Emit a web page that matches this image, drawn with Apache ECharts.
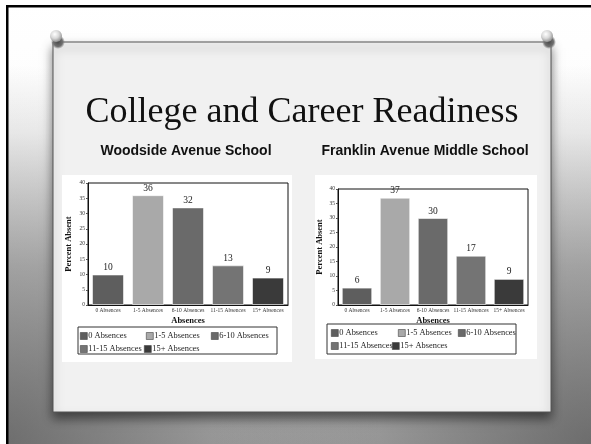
<!DOCTYPE html>
<html><head><meta charset="utf-8">
<script src="https://cdn.jsdelivr.net/npm/echarts@6/dist/echarts.min.js"></script>
<style>html,body{margin:0;padding:0;background:#fff}#c{width:591px;height:444px}</style>
</head><body><div id="c"></div>
<script>
const categories = ['0 Absences', '1-5 Absences', '6-10 Absences', '11-15 Absences', '15+ Absences'];
const woodsideValues = [10, 36, 32, 13, 9];
const franklinValues = [6, 37, 30, 17, 9];
const yMin = 0, yMax = 40, yStep = 5;
const slideTitle = 'College and Career Readiness';
const schoolNames = ['Woodside Avenue School', 'Franklin Avenue Middle School'];
const yAxisName = 'Percent Absent';
const xAxisName = 'Absences';

const colors = ['#5e5e5e', '#a9a9a9', '#6a6a6a', '#747474', '#3a3a3a'];
const serif = '"Liberation Serif", "Times New Roman", serif';

const grids = [
  {left: 88, top: 183, width: 200, height: 122},
  {left: 338, top: 189, width: 190, height: 116}
];
const nameGaps = [15, 14];
const legendPos = [
  {cols: [[80, 146, 211], [80, 144]], box: [78, 327, 199, 27]},
  {cols: [[331, 398, 458], [331, 392]], box: [327, 324, 189, 30]}
];

const series = [];
[woodsideValues, franklinValues].forEach((vals, c) => {
  categories.forEach((name, i) => {
    series.push({
      type: 'bar', name: name, xAxisIndex: c, yAxisIndex: c, stack: 'g' + c,
      barWidth: '80%',
      data: categories.map((_, j) => j === i ? vals[j] : '-'),
      itemStyle: {color: colors[i], borderColor: 'rgba(255,255,255,0.55)', borderWidth: 1},
      label: {show: true, position: 'top', distance: 2, fontSize: 9.5, fontFamily: serif, color: '#222'}
    });
  });
});

const legends = [];
[0, 1].forEach(c => {
  const lp = legendPos[c];
  const rowY = [lp.box[1] + 5, lp.box[1] + 18];
  const layout = [[0, 1, 2], [3, 4]];
  layout.forEach((row, r) => {
    row.forEach((idx, k) => {
      legends.push({
        data: [categories[idx]], left: lp.cols[r][k], top: rowY[r],
        itemWidth: 7, itemHeight: 7, itemGap: 0, padding: 0, icon: 'rect',
        selectedMode: false,
        itemStyle: {borderColor: '#444', borderWidth: 0.6},
        textStyle: {fontSize: 8.4, fontFamily: serif, color: '#222', padding: [0, 0, 0, -4]}
      });
    });
  });
});

function pin(cx, cy) {
  return [
    {type: 'circle', shape: {cx: cx + 2, cy: cy + 6, r: 7}, style: {fill: {type: 'radial', x: 0.5, y: 0.5, r: 0.5, colorStops: [{offset: 0, color: '#4a4a4a'}, {offset: 0.65, color: '#707070'}, {offset: 1, color: 'rgba(120,120,120,0)'}]}}, z: 20},
    {type: 'circle', shape: {cx: cx, cy: cy, r: 6}, style: {fill: {type: 'radial', x: 0.4, y: 0.35, r: 0.7, colorStops: [{offset: 0, color: '#ffffff'}, {offset: 0.5, color: '#d8d8d8'}, {offset: 1, color: '#8a8a8a'}]}}, z: 21}
  ];
}

function cornerShade(cx) {
  return {type: 'circle', shape: {cx: cx, cy: 444, r: 380}, style: {fill: {type: 'radial', x: 0.5, y: 0.5, r: 0.5, colorStops: [{offset: 0, color: 'rgba(60,60,60,0.6)'}, {offset: 0.5, color: 'rgba(60,60,60,0.3)'}, {offset: 1, color: 'rgba(60,60,60,0)'}]}}, z: -5};
}

const graphic = [
  {type: 'rect', shape: {x: 0, y: 0, width: 591, height: 444}, style: {fill: {type: 'linear', x: 0, y: 0, x2: 0, y2: 1, colorStops: [{offset: 0, color: '#ffffff'}, {offset: 0.3, color: '#fcfcfc'}, {offset: 0.6, color: '#d2d2d2'}, {offset: 1, color: '#b6b6b6'}]}}, z: -6},
  cornerShade(0), cornerShade(591),
  {type: 'rect', shape: {x: 0, y: 0, width: 6, height: 444}, style: {fill: '#fff'}, z: -4},
  {type: 'rect', shape: {x: 0, y: 0, width: 591, height: 5}, style: {fill: '#fff'}, z: -4},
  {type: 'rect', shape: {x: 6, y: 5, width: 2.5, height: 439}, style: {fill: '#000'}, z: -4},
  {type: 'rect', shape: {x: 6, y: 5, width: 585, height: 2.5}, style: {fill: '#000'}, z: -4},
  {type: 'rect', shape: {x: 53, y: 42, width: 498, height: 370}, style: {fill: '#f1f1f1', stroke: '#555', lineWidth: 1, shadowBlur: 10, shadowOffsetY: 6, shadowColor: 'rgba(0,0,0,0.5)'}, z: -3},
  {type: 'rect', shape: {x: 62, y: 175, width: 230, height: 187}, style: {fill: '#ffffff'}, z: -2},
  {type: 'rect', shape: {x: 315, y: 175, width: 222, height: 184}, style: {fill: '#ffffff'}, z: -2},
  {type: 'rect', shape: {x: legendPos[0].box[0], y: legendPos[0].box[1], width: legendPos[0].box[2], height: legendPos[0].box[3]}, style: {fill: 'none', stroke: '#333', lineWidth: 1}, z: -1},
  {type: 'rect', shape: {x: legendPos[1].box[0], y: legendPos[1].box[1], width: legendPos[1].box[2], height: legendPos[1].box[3]}, style: {fill: 'none', stroke: '#333', lineWidth: 1}, z: -1},
  {type: 'text', x: 302, y: 131, style: {text: slideTitle, font: '36px ' + serif, fill: '#111', textAlign: 'center', textVerticalAlign: 'bottom'}, z: 5},
  {type: 'text', x: 186, y: 151, style: {text: schoolNames[0], font: 'bold 14px "Liberation Sans", Arial, sans-serif', fill: '#111', textAlign: 'center', textVerticalAlign: 'middle'}, z: 5},
  {type: 'text', x: 425, y: 151, style: {text: schoolNames[1], font: 'bold 14px "Liberation Sans", Arial, sans-serif', fill: '#111', textAlign: 'center', textVerticalAlign: 'middle'}, z: 5}
].concat(pin(56, 36), pin(547, 36));

const chart = echarts.init(document.getElementById('c'), null, {renderer: 'canvas'});
chart.setOption({
  animation: false,
  grid: grids.map(g => Object.assign({show: true, borderColor: '#111', borderWidth: 1, backgroundColor: 'transparent'}, g)),
  xAxis: [0, 1].map(c => ({
    type: 'category', gridIndex: c, data: categories,
    name: xAxisName, nameLocation: 'middle', nameGap: 11,
    nameTextStyle: {fontFamily: serif, fontWeight: 'bold', fontSize: 8.5, color: '#111'},
    axisLine: {lineStyle: {color: '#111'}}, axisTick: {show: false},
    axisLabel: {interval: 0, fontSize: 5.5, fontFamily: serif, color: '#333', margin: 3}
  })),
  yAxis: [0, 1].map(c => ({
    type: 'value', gridIndex: c, min: yMin, max: yMax, interval: yStep,
    name: yAxisName, nameLocation: 'middle', nameGap: nameGaps[c],
    nameTextStyle: {fontFamily: serif, fontWeight: 'bold', fontSize: 8.5, color: '#111'},
    axisLine: {show: true, lineStyle: {color: '#111'}}, axisTick: {show: true, length: 2, lineStyle: {color: '#555'}},
    splitLine: {show: false},
    axisLabel: {fontSize: 5.5, fontFamily: serif, color: '#333', margin: 3}
  })),
  legend: legends,
  series: series,
  graphic: graphic
});
</script></body></html>
